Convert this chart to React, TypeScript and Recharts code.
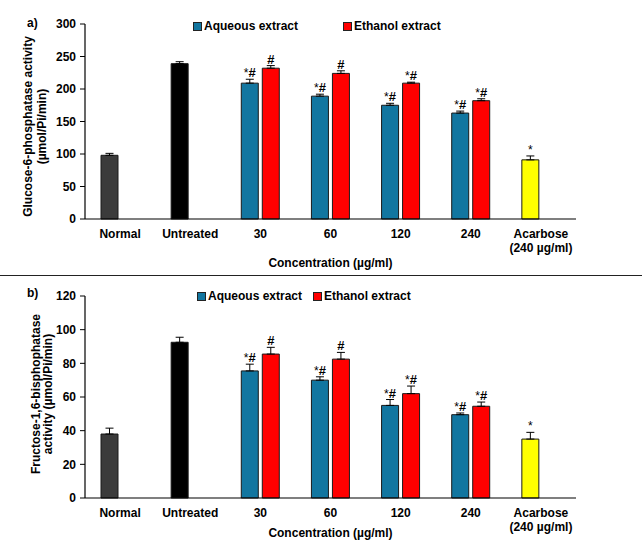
import * as React from 'react';
import { Bar, BarChart, Cell, ErrorBar, LabelList, XAxis, YAxis } from 'recharts';

const categories = ['Normal', 'Untreated', '30', '60', '120', '240', 'Acarbose\n(240 µg/ml)'];

// a) glucose-6-phosphatase
const g6pMain = [98, 239, 209, 189, 175, 163, 91];
const g6pMainErr = [3, 3, 6, 3, 3, 3, 6];
const g6pEthanol = [null, null, 232, 224, 209, 182, null];
const g6pEthanolErr = [0, 0, 4, 4, 1.5, 3, 0];
const g6pTicks = [0, 50, 100, 150, 200, 250, 300];

// b) fructose-1,6-bisphosphatase
const fbpMain = [38, 92.5, 75.5, 70, 55, 49.5, 35];
const fbpMainErr = [3.5, 3, 4, 2, 3.5, 1, 4];
const fbpEthanol = [null, null, 85.5, 82.5, 62, 54.5, null];
const fbpEthanolErr = [0, 0, 4, 4, 4.5, 2.5, 0];
const fbpTicks = [0, 20, 40, 60, 80, 100, 120];

const mainMarks = ['', '', '*#', '*#', '*#', '*#', '*'];
const ethanolMarks = ['', '', '#', '#', '*#', '*#', ''];

const FONT = '"Liberation Sans", Arial, sans-serif';
const AQUEOUS = '#1276a0';
const ETHANOL = '#ff0000';
const mainColors = ['#3b3b3b', '#000000', AQUEOUS, AQUEOUS, AQUEOUS, AQUEOUS, '#ffff00'];

function buildRows(main: number[], mainErr: number[], eth: (number | null)[], ethErr: number[]) {
  return categories.map((c, i) => ({
    cat: c,
    main: main[i],
    mainErr: [0, mainErr[i]],
    eth: eth[i],
    ethErr: [0, ethErr[i]],
  }));
}

const CatTick = (props: any) => {
  const { x, y, payload } = props;
  const lines = String(payload.value).split('\n');
  return (
    <text x={x} y={y} textAnchor="middle" fontFamily={FONT} fontWeight="bold" fontSize={12} fill="#000">
      {lines.map((l, i) => (
        <tspan key={i} x={x} dy={i === 0 ? 19 : 14}>
          {l}
        </tspan>
      ))}
    </text>
  );
};

// LabelList skips null rows, so find the category by the bar's own value
const markRenderer = (series: (number | null)[], marks: string[], errs: number[]) => (props: any) => {
  const vb = props.viewBox ?? props;
  const { x, y, width, height } = vb;
  const value = Number(props.value);
  const index = series.indexOf(value);
  const mark = index >= 0 ? marks[index] : '';
  if (!mark || !value) return null;
  const errPx = (errs[index] * Math.abs(height)) / value;
  return (
    <text x={x + width / 2} y={y - errPx - 2} textAnchor="middle" fontFamily={FONT} fontSize={13} fill="#000">
      {mark.split('').map((ch, i) =>
        ch === '*' ? (
          <tspan key={i} fontSize={12}>*</tspan>
        ) : (
          <tspan key={i} fontWeight="bold">#</tspan>
        ),
      )}
    </text>
  );
};

interface PanelProps {
  main: number[];
  mainErr: number[];
  eth: (number | null)[];
  ethErr: number[];
  max: number;
  ticks: number[];
  yLabel: [string, string];
  yLabelX: [number, number];
  yLabelShift: number;
  height: number;
  top: number;
  xAxisHeight: number;
  titleDy: number;
}

function Panel(p: PanelProps) {
  const data = buildRows(p.main, p.mainErr, p.eth, p.ethErr);
  return (
    <BarChart
      width={642}
      height={p.height}
      data={data}
      margin={{ top: p.top, right: 66, left: 0, bottom: 0 }}
      barSize={17}
      barGap={4}
    >
      <XAxis
        dataKey="cat"
        height={p.xAxisHeight}
        tick={<CatTick />}
        tickLine={false}
        tickSize={0}
        tickMargin={0}
        interval={0}
        axisLine={{ stroke: '#000', strokeWidth: 1.2 }}
        label={{
          content: (lp: any) => {
            const vb = lp.viewBox;
            return (
              <text x={vb.x + vb.width / 2} y={vb.y + p.titleDy} textAnchor="middle" fontFamily={FONT} fontWeight="bold" fontSize={12} fill="#000">
                Concentration (µg/ml)
              </text>
            );
          },
        }}
      />
      <YAxis
        width={85}
        domain={[0, p.max]}
        ticks={p.ticks}
        interval={0}
        tickSize={5}
        tickMargin={4}
        tick={{ fontFamily: FONT, fontWeight: 'bold', fontSize: 12, fill: '#000' }}
        tickLine={{ stroke: '#000' }}
        axisLine={{ stroke: '#000', strokeWidth: 1.2 }}
        label={{
          content: (lp: any) => {
            const vb = lp.viewBox;
            const cy = vb.y + vb.height / 2 + p.yLabelShift;
            const cx = p.yLabelX[0];
            return (
              <text
                x={cx}
                y={cy}
                transform={`rotate(-90, ${cx}, ${cy})`}
                textAnchor="middle"
                fontFamily={FONT}
                fontWeight="bold"
                fontSize={12}
                fill="#000"
              >
                <tspan x={cx} dy={0}>{p.yLabel[0]}</tspan>
                <tspan x={cx} dy={p.yLabelX[1] - p.yLabelX[0]}>{p.yLabel[1]}</tspan>
              </text>
            );
          },
        }}
      />
      <Bar dataKey="main" stroke="#1a1a1a" strokeWidth={1} isAnimationActive={false}>
        {data.map((_, i) => (
          <Cell key={i} fill={mainColors[i]} />
        ))}
        <ErrorBar dataKey="mainErr" width={4} stroke="#000" strokeWidth={1} direction="y" isAnimationActive={false} />
        <LabelList dataKey="main" content={markRenderer(p.main, mainMarks, p.mainErr)} />
      </Bar>
      <Bar dataKey="eth" fill={ETHANOL} stroke="#1a1a1a" strokeWidth={1} isAnimationActive={false}>
        <ErrorBar dataKey="ethErr" width={4} stroke="#000" strokeWidth={1} direction="y" isAnimationActive={false} />
        <LabelList dataKey="eth" content={markRenderer(p.eth, ethanolMarks, p.ethErr)} />
      </Bar>
    </BarChart>
  );
}

const LegendItem = ({ x, y, color, text }: { x: number; y: number; color: string; text: string }) => (
  <div style={{ position: 'absolute', left: x, top: y - 8, display: 'flex', alignItems: 'center', height: 16 }}>
    <span style={{ width: 7, height: 7, background: color, border: '1px solid #222', marginRight: 2 }} />
    <span style={{ fontFamily: FONT, fontWeight: 'bold', fontSize: 12, color: '#000', whiteSpace: 'nowrap' }}>{text}</span>
  </div>
);

const panelLabel = (text: string, x: number, y: number) => (
  <div style={{ position: 'absolute', left: x, top: y - 8, fontFamily: FONT, fontWeight: 'bold', fontSize: 12, lineHeight: '16px' }}>
    {text}
  </div>
);

export default function App() {
  return (
    <div style={{ position: 'absolute', left: 0, top: 0, width: 642, height: 548, background: '#fff', overflow: 'hidden' }}>
      <div style={{ position: 'absolute', left: 0, top: 0 }}>
        <Panel
          main={g6pMain}
          mainErr={g6pMainErr}
          eth={g6pEthanol}
          ethErr={g6pEthanolErr}
          max={300}
          ticks={g6pTicks}
          yLabel={['Glucose-6-phosphatase activity', '(µmol/Pi/min)']}
          yLabelX={[32, 46]}
          yLabelShift={5}
          height={272}
          top={24}
          xAxisHeight={53}
          titleDy={48}
        />
      </div>
      <div style={{ position: 'absolute', left: 0, top: 275, width: 642, height: 1, background: '#222' }} />
      <div style={{ position: 'absolute', left: 0, top: 276 }}>
        <Panel
          main={fbpMain}
          mainErr={fbpMainErr}
          eth={fbpEthanol}
          ethErr={fbpEthanolErr}
          max={120}
          ticks={fbpTicks}
          yLabel={['Fructose-1,6-bisphophatase', 'activity (µmol/Pi/min)']}
          yLabelX={[40, 52]}
          yLabelShift={-3}
          height={272}
          top={20}
          xAxisHeight={50}
          titleDy={39}
        />
      </div>
      {panelLabel('a)', 27, 23)}
      {panelLabel('b)', 27, 293)}
      <LegendItem x={193} y={26} color={AQUEOUS} text="Aqueous extract" />
      <LegendItem x={343} y={26} color={ETHANOL} text="Ethanol extract" />
      <LegendItem x={197} y={296} color={AQUEOUS} text="Aqueous extract" />
      <LegendItem x={313} y={296} color={ETHANOL} text="Ethanol extract" />
    </div>
  );
}
